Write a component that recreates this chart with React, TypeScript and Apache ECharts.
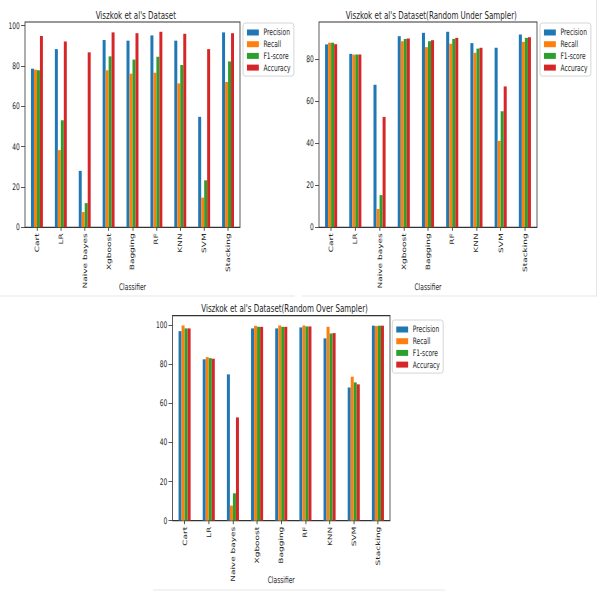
import React, { useEffect, useRef } from "react";
import * as echarts from "echarts";

// ---- data ----
const categories = ["Cart", "LR", "Naive bayes", "Xgboost", "Bagging", "RF", "KNN", "SVM", "Stacking"];
const metricNames = ["Precision", "Recall", "F1-score", "Accuracy"];
const metricColors = ["#1f77b4", "#ff7f0e", "#2ca02c", "#d62728"];
const chartTitles = [
  "Viszkok et al's Dataset",
  "Viszkok et al's Dataset(Random Under Sampler)",
  "Viszkok et al's Dataset(Random Over Sampler)",
];
const xAxisName = "Classifier";

// Original dataset
const origPrecision = [78.7, 88.4, 28.0, 92.9, 92.6, 95.2, 92.6, 54.8, 96.7];
const origRecall = [78.2, 38.3, 7.6, 77.9, 76.2, 76.7, 71.4, 14.7, 72.1];
const origF1 = [77.9, 53.1, 12.0, 84.8, 83.2, 84.6, 80.5, 23.3, 82.3];
const origAccuracy = [94.9, 92.2, 86.8, 96.7, 96.3, 97.0, 96.0, 88.4, 96.3];

// Random Under Sampler
const underPrecision = [87.0, 82.5, 67.8, 90.9, 92.5, 93.0, 87.6, 85.4, 91.7];
const underRecall = [87.8, 82.1, 8.7, 88.5, 85.7, 87.3, 83.0, 41.1, 88.2];
const underF1 = [87.8, 82.2, 15.3, 89.6, 88.5, 89.6, 85.0, 55.2, 90.1];
const underAccuracy = [87.1, 82.2, 52.5, 89.8, 89.0, 90.1, 85.4, 67.0, 90.4];

// Random Over Sampler
const overPrecision = [96.9, 82.5, 74.8, 98.3, 98.3, 98.8, 93.2, 68.1, 99.7];
const overRecall = [99.8, 83.6, 7.7, 99.6, 99.8, 99.8, 99.1, 73.6, 99.5];
const overF1 = [98.3, 83.1, 14.0, 99.1, 99.1, 99.3, 95.7, 70.7, 99.7];
const overAccuracy = [98.3, 82.8, 52.8, 99.1, 99.1, 99.3, 95.9, 69.7, 99.7];

const origTicks = [0, 20, 40, 60, 80, 100];
const underTicks = [0, 20, 40, 60, 80];
const overTicks = [0, 20, 40, 60, 80, 100];

const datasets = [
  [origPrecision, origRecall, origF1, origAccuracy],
  [underPrecision, underRecall, underF1, underAccuracy],
  [overPrecision, overRecall, overF1, overAccuracy],
];
const tickSets = [origTicks, underTicks, overTicks];

// ---- layout (image coordinates, then squeezed horizontally) ----
const SX = 0.66;
const W = 600 / SX;
const H = 595;
const px = (x: number) => x / SX;
const FONT = "'DejaVu Sans', sans-serif";
const INK = "#262626";
const FS = 9;

const plots = [
  { l: 25, r: 240, t: 22, b: 227.3, legL: 243, legT: 23, titleY: 5 },
  { l: 319, r: 537, t: 22, b: 227.3, legL: 540, legT: 23, titleY: 5 },
  { l: 172.5, r: 390, t: 315.7, b: 520.7, legL: 392.3, legT: 320, titleY: 298 },
];

export default function App() {
  const ref = useRef<HTMLDivElement>(null);

  useEffect(() => {
    if (!ref.current) return;
    const chart = echarts.init(ref.current, null, { renderer: "svg", width: W, height: H });

    const grid = plots.map((p) => ({
      left: px(p.l),
      top: p.t,
      width: px(p.r - p.l),
      height: p.b - p.t,
      show: true,
      borderColor: "#333",
      borderWidth: 1.2,
      backgroundColor: "transparent",
      containLabel: false,
    }));

    const xAxis = plots.map((_, i) => ({
      type: "category",
      gridIndex: i,
      data: categories,
      axisLine: { show: false },
      axisTick: { show: true, alignWithLabel: true, length: 3.5, lineStyle: { color: "#333" } },
      axisLabel: { rotate: 90, fontSize: FS, margin: 6, color: INK, fontFamily: FONT, interval: 0 },
      name: xAxisName,
      nameLocation: "middle",
      nameGap: 55,
      nameMoveOverlap: false,
      nameTextStyle: { fontSize: FS, color: INK, fontFamily: FONT },
      splitLine: { show: false },
    }));

    const yAxis = plots.map((_, i) => {
      const maxVal = Math.max(...datasets[i].flat());
      const ticks = tickSets[i];
      return {
        type: "value",
        gridIndex: i,
        min: 0,
        max: maxVal * 1.05,
        interval: 20,
        axisLine: { show: false },
        axisTick: { show: true, length: 6, lineStyle: { color: "#333" }, customValues: ticks },
        axisLabel: {
          fontSize: FS,
          margin: 8,
          color: INK,
          fontFamily: FONT,
          customValues: ticks,
          formatter: (v: number) => (ticks.includes(v) ? String(v) : ""),
        },
        splitLine: { show: false },
      };
    });

    const series: any[] = [];
    datasets.forEach((ds, i) => {
      ds.forEach((vals, m) => {
        series.push({
          type: "bar",
          name: metricNames[m],
          xAxisIndex: i,
          yAxisIndex: i,
          data: vals,
          barWidth: "12.5%",
          barGap: "0%",
          itemStyle: { color: metricColors[m] },
          emphasis: { disabled: true },
        });
      });
    });

    const title = plots.map((p, i) => ({
      text: chartTitles[i],
      left: px((p.l + p.r) / 2),
      top: p.titleY,
      textAlign: "center",
      textStyle: { fontSize: 10.8, fontWeight: "normal", color: INK, fontFamily: FONT },
    }));

    const legend = plots.map((p) => ({
      data: metricNames,
      orient: "vertical",
      left: px(p.legL),
      top: p.legT,
      icon: "rect",
      itemWidth: 18,
      itemHeight: 6,
      itemGap: 2.7,
      padding: [5, 5, 4, 6],
      borderColor: "#cccccc",
      borderWidth: 1,
      borderRadius: 3,
      backgroundColor: "#ffffff",
      selectedMode: false,
      textStyle: { fontSize: FS, lineHeight: 9, color: INK, fontFamily: FONT, padding: [0, 0, 0, 2] },
    }));

    const sep = { stroke: "#e2e2e2", lineWidth: 1 };
    const graphic = [
      { type: "line", shape: { x1: 0, y1: 296, x2: px(295), y2: 296 }, style: sep, silent: true },
      { type: "line", shape: { x1: px(302), y1: 296, x2: px(597), y2: 296 }, style: sep, silent: true },
      { type: "line", shape: { x1: px(596.5), y1: 0, x2: px(596.5), y2: 296 }, style: sep, silent: true },
      { type: "line", shape: { x1: px(153), y1: 590, x2: px(445), y2: 590 }, style: sep, silent: true },
    ];

    chart.setOption({
      animation: false,
      backgroundColor: "#ffffff",
      title,
      legend,
      grid,
      xAxis,
      yAxis,
      series,
      graphic,
    } as any);

    return () => chart.dispose();
  }, []);

  return (
    <div
      style={{
        position: "fixed",
        left: 0,
        top: 0,
        width: 600,
        height: 595,
        overflow: "hidden",
        background: "#ffffff",
      }}
    >
      <div
        ref={ref}
        style={{
          width: W,
          height: H,
          transform: `scaleX(${SX})`,
          transformOrigin: "0 0",
        }}
      />
    </div>
  );
}
